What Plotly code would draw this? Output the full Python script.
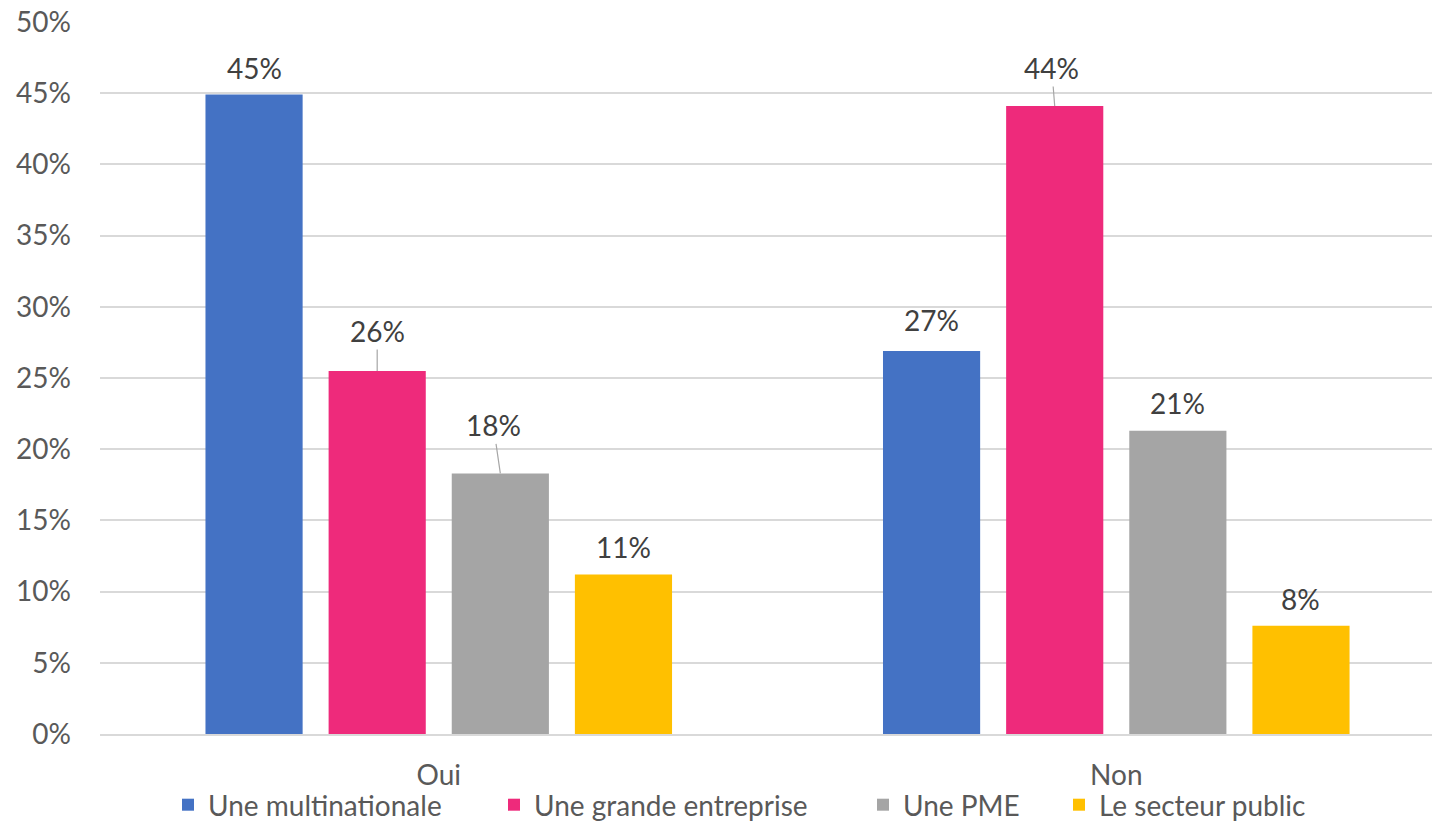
import plotly.graph_objects as go

categories = ["Oui", "Non"]
series_names = ["Une multinationale", "Une grande entreprise", "Une PME", "Le secteur public"]
values = {
    "Une multinationale": [0.449, 0.269],
    "Une grande entreprise": [0.255, 0.441],
    "Une PME": [0.183, 0.213],
    "Le secteur public": [0.112, 0.076],
}
colors = ["#4472C4", "#EE2A7B", "#A5A5A5", "#FFC000"]
y_ticks = [0, 0.05, 0.10, 0.15, 0.20, 0.25, 0.30, 0.35, 0.40, 0.45, 0.50]
y_ticktext = ["0%", "5%", "10%", "15%", "20%", "25%", "30%", "35%", "40%", "45%", "50%"]

# label placement (pixel offsets) for each series / category; leader line where given
label_offsets = {
    "Une multinationale": [(0, -27, False), (0, -31, False)],
    "Une grande entreprise": [(0, -40, True), (-3, -38, True)],
    "Une PME": [(-7, -48, True), (0, -28, False)],
    "Le secteur public": [(0, -28, False), (0, -27, False)],
}
# legend entry left positions (container fraction)
legend_x = [168 / 1432, 494 / 1432, 863 / 1432, 1059 / 1432]

FONT = "Lato, 'Open Sans', sans-serif"
FS = 28
bargap = 0.273
nser = len(series_names)
slot = (1 - bargap) / nser

fig = go.Figure()
annotations = []
xs = list(range(len(categories)))
legend_layouts = {}
for j, (name, col) in enumerate(zip(series_names, colors)):
    lg = "legend" if j == 0 else f"legend{j + 1}"
    fig.add_trace(go.Bar(
        x=xs, y=values[name], name=name, marker=dict(color=col, line=dict(width=0)),
        legend=lg,
    ))
    legend_layouts[lg] = dict(
        orientation="h", x=legend_x[j], xref="container", xanchor="left",
        y=1 - 805 / 821, yref="container", yanchor="middle",
        font=dict(family=FONT, size=FS, color="#595959"),
        bgcolor="rgba(0,0,0,0)", itemwidth=30,
    )
    for i, v in enumerate(values[name]):
        xpos = xs[i] + (j - (nser - 1) / 2) * slot
        ax, ay, leader = label_offsets[name][i]
        txt = f"{round(v * 100):.0f}%"
        if leader:
            annotations.append(dict(
                x=xpos, y=v, xref="x", yref="y", text=txt, showarrow=True,
                ax=ax, ay=ay, arrowhead=0, arrowwidth=1.2, arrowcolor="#A6A6A6",
                standoff=0, startstandoff=0,
                font=dict(family=FONT, size=FS, color="#404040"),
            ))
        else:
            annotations.append(dict(
                x=xpos, y=v, xref="x", yref="y", text=txt, showarrow=False,
                yanchor="middle", yshift=-ay, xshift=ax,
                font=dict(family=FONT, size=FS, color="#404040"),
            ))

fig.update_layout(
    width=1432, height=821,
    barmode="group", bargap=bargap, bargroupgap=0.211,
    plot_bgcolor="white", paper_bgcolor="white",
    margin=dict(l=100, r=0, t=22, b=87, autoexpand=False),
    font=dict(family=FONT, size=FS, color="#595959"),
    annotations=annotations,
    showlegend=True,
    xaxis=dict(
        range=[-0.5, 1.466], tickvals=xs, ticktext=categories,
        showgrid=False, showline=True, linecolor="#D9D9D9", linewidth=1.5,
        ticks="", ticklabelstandoff=16, zeroline=False, automargin=False,
    ),
    yaxis=dict(
        range=[0, 0.5], tickvals=y_ticks, ticktext=y_ticktext,
        showgrid=True, gridcolor="#D9D9D9", gridwidth=1.5,
        zeroline=False, showline=False, ticks="", ticklabelstandoff=28,
        automargin=False,
    ),
)
fig.update_layout(**legend_layouts)

fig.write_html(
    "out.html",
    config={"displayModeBar": False},
    post_script="document.body.style.margin='0px';document.body.style.overflow='hidden';",
)
